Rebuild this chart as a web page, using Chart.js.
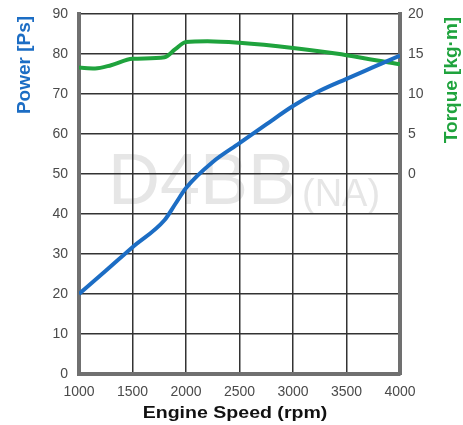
<!DOCTYPE html>
<html>
<head>
<meta charset="utf-8">
<script src="https://cdn.jsdelivr.net/npm/chart.js@4.4.1/dist/chart.umd.min.js"></script>
<style>
  body { margin: 0; background: #fff; }
</style>
</head>
<body>
<canvas id="engineChart" width="463" height="425"></canvas>
<script>
// Data
const powerRpm = [1000, 1250, 1500, 1800, 1900, 2000, 2250, 2500, 2750, 3000, 3250, 3500, 3750, 4000];
const powerPs = [20, 25.8, 31.7, 38.5, 42.5, 46.5, 53, 57.7, 62.4, 67, 70.8, 73.8, 76.7, 79.6];
const torqueRpm = [1000, 1150, 1300, 1500, 1800, 1900, 2000, 2200, 2500, 3000, 3400, 3500, 4000];
const torqueKgm = [13.3, 13.2, 13.6, 14.4, 14.6, 15.6, 16.5, 16.6, 16.4, 15.75, 15.05, 14.85, 13.7];

const powerTicks = [0, 10, 20, 30, 40, 50, 60, 70, 80, 90];
const torqueTicks = [0, 5, 10, 15, 20];
const rpmTicks = [1000, 1500, 2000, 2500, 3000, 3500, 4000];

const ctx = document.getElementById('engineChart').getContext('2d');

const tickFont = { family: 'Liberation Sans', size: 14 };
const tickColor = '#4a4a4a';

// White background + faint watermark, drawn below the grid
const backdrop = {
    id: 'backdrop',
    beforeDraw(chart) {
        const c = chart.ctx;
        c.save();
        c.fillStyle = '#fff';
        c.fillRect(0, 0, chart.width, chart.height);
        c.fillStyle = '#e6e6e6';
        c.textBaseline = 'alphabetic';
        c.textAlign = 'left';
        c.font = '72px "Liberation Sans"';
        c.fillText('D4BB', 108, 204);
        c.font = '38px "Liberation Sans"';
        c.fillText('(NA)', 302, 206);
        c.restore();
    }
};

// Axis titles (the torque one reads bottom to top like the power one)
const titles = {
    id: 'titles',
    afterDraw(chart) {
        const c = chart.ctx;
        c.save();
        c.textAlign = 'center';
        c.textBaseline = 'middle';
        c.font = 'bold 19px "Liberation Sans"';

        c.save();
        c.translate(25, 65);
        c.rotate(-Math.PI / 2);
        c.fillStyle = '#1c6dc4';
        c.fillText('Power [Ps]', 0, 0);
        c.restore();

        c.save();
        c.translate(452, 80);
        c.rotate(-Math.PI / 2);
        c.fillStyle = '#1fa33d';
        c.fillText('Torque [kg·m]', 0, 0);
        c.restore();

        c.save();
        c.translate(235, 413);
        c.scale(1.15, 1);
        c.fillStyle = '#111';
        c.font = 'bold 17px "Liberation Sans"';
        c.fillText('Engine Speed (rpm)', 0, 0);
        c.restore();

        c.restore();
    }
};

const engineChart = new Chart(ctx, {
    type: 'line',
    data: {
        datasets: [
            {
                label: 'Power',
                data: powerRpm.map((r, i) => ({ x: r, y: powerPs[i] })),
                borderColor: '#1c6dc4',
                borderWidth: 4,
                pointRadius: 0,
                cubicInterpolationMode: 'monotone',
                yAxisID: 'y'
            },
            {
                label: 'Torque',
                data: torqueRpm.map((r, i) => ({ x: r, y: torqueKgm[i] })),
                borderColor: '#1fa33d',
                borderWidth: 4,
                pointRadius: 0,
                cubicInterpolationMode: 'monotone',
                yAxisID: 'y2'
            }
        ]
    },
    options: {
        responsive: false,
        animation: false,
        layout: { padding: { top: 14, left: 0, right: 0, bottom: 0 } },
        plugins: {
            legend: { display: false },
            tooltip: { enabled: false }
        },
        scales: {
            x: {
                type: 'linear',
                min: 1000,
                max: 4000,
                afterBuildTicks: s => { s.ticks = rpmTicks.map(v => ({ value: v })); },
                afterFit: s => { s.height = 51; s.paddingLeft = 0; s.paddingRight = 0; },
                ticks: { font: tickFont, color: tickColor, padding: 10, maxRotation: 0, callback: v => String(v) },
                grid: { color: '#333', lineWidth: 1.5, drawTicks: false },
                border: { color: '#707070', width: 4 }
            },
            y: {
                position: 'left',
                min: 0,
                max: 90,
                afterBuildTicks: s => { s.ticks = powerTicks.map(v => ({ value: v })); },
                afterFit: s => { s.width = 79; s.paddingTop = 0; s.paddingBottom = 0; },
                ticks: { font: tickFont, color: tickColor, padding: 11, callback: v => String(v) },
                grid: { color: '#333', lineWidth: 1.5, drawTicks: false },
                border: { color: '#707070', width: 4 }
            },
            y2: {
                position: 'right',
                min: -25,
                max: 20,
                afterBuildTicks: s => { s.ticks = torqueTicks.map(v => ({ value: v })); },
                afterFit: s => { s.width = 63; s.paddingTop = 0; s.paddingBottom = 0; },
                ticks: { font: tickFont, color: tickColor, padding: 8, callback: v => String(v) },
                grid: { display: false, drawTicks: false },
                border: { color: '#707070', width: 4 }
            }
        }
    },
    plugins: [backdrop, titles]
});
</script>
</body>
</html>
